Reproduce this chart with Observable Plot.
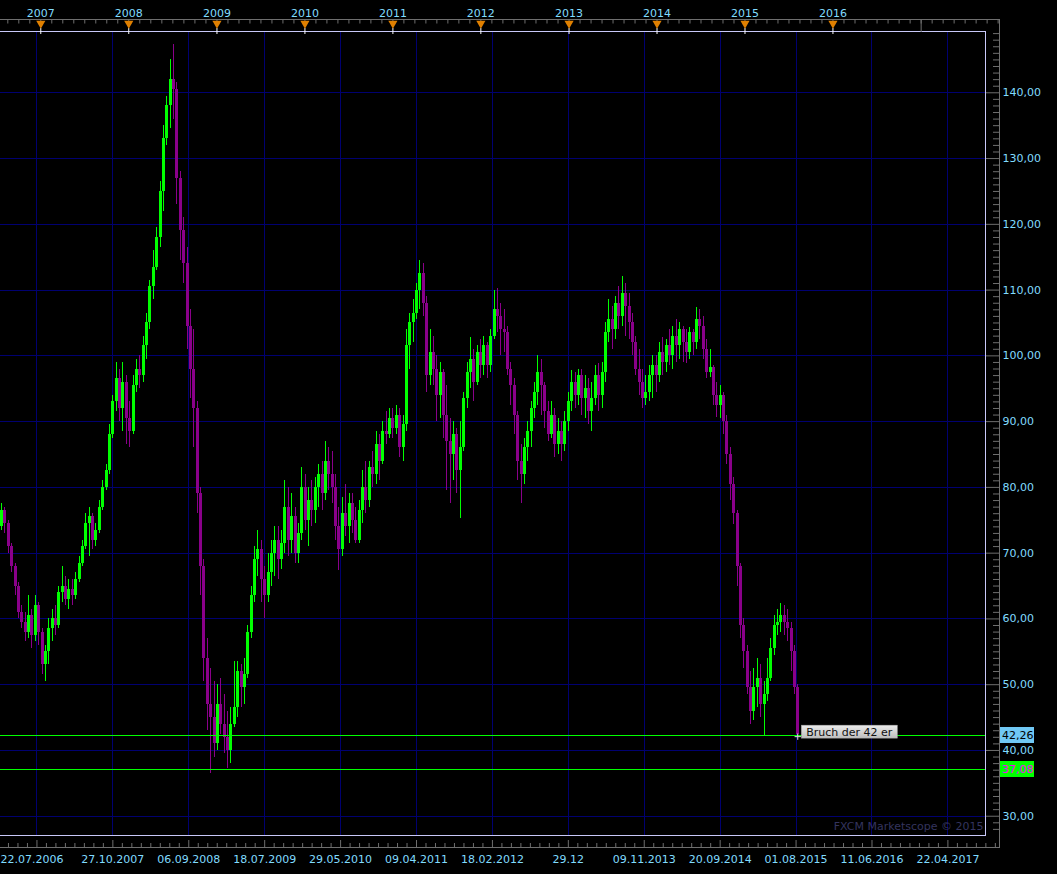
<!DOCTYPE html>
<html>
<head>
<meta charset="utf-8">
<script src="https://cdn.jsdelivr.net/npm/d3@7"></script>
<script src="https://cdn.jsdelivr.net/npm/@observablehq/plot@0.6"></script>
<style>
  html, body { margin: 0; padding: 0; background: #000; }
  svg { display: block; }
</style>
</head>
<body>
<div id="chart"></div>
<script>
// ---------- DATA ----------
const firstDate = "2006-07-22";   // first two-week candle
const periodDays = 14;            // candle period
const firstOpen = 74;

const closes = [
  76.5, 74.5, 71, 68, 65, 61, 59.5, 58, 60.5, 57.5,
  62, 58, 53, 55, 58.5, 60, 59, 64, 65, 63,
  64.5, 63.5, 66, 68.5, 71, 74.5, 75.5, 72, 73.5, 77,
  80, 82.5, 88, 93, 96.5, 92, 96, 90.5, 88.5, 95.5,
  98, 97, 101.5, 105, 110.5, 113.5, 118, 125,
  133, 138, 142, 140.5, 127, 119, 114, 104.5, 98, 92, 79,
  68, 54, 47, 45, 41, 47, 44, 42, 40, 44,
  46.5, 52, 49.5, 51.5, 58, 63.5, 69, 70.5, 66, 63.5,
  67, 70, 72, 69, 71.5, 77, 72, 75.5, 70, 73,
  80, 75, 78, 76.5, 80, 82, 79, 84, 82, 80,
  74, 70.5, 76, 74, 77.5, 75, 72, 76.5, 80, 78,
  83, 82, 86.5, 84, 88.5, 88, 90.5, 89, 91, 86,
  89.5, 101.5, 105, 106.5, 110, 112.5, 108, 97, 100.5, 98,
  94, 97.5, 91, 87, 85, 88, 82.5, 86, 93.5, 97.5,
  99.5, 96, 100.5, 98.5, 101.5, 98.5, 103, 107, 106, 104,
  103.5, 98, 95.5, 91, 84, 82, 86, 88.5, 92,
  94.5, 97.5, 95.5, 91.5, 88, 91, 86.5, 88.5, 86.5, 90,
  93, 96, 94, 97, 93.5, 95, 91.5, 93.5, 97, 94,
  97.5, 103.5, 105.5, 104, 108, 106, 109.5, 107.5, 105, 102,
  98, 96, 93.5, 94.5, 97, 98.5, 97, 100.5, 99, 101.5,
  100, 103, 101.5, 104, 102, 100.5, 103.5, 102, 105.5, 104.5,
  101, 97.5, 98.2, 94, 92.5, 94, 90, 85, 80.5, 76,
  68, 59, 55, 49.5, 46, 49.5, 51, 47, 48.5, 51,
  55.5, 59, 59.5, 60.5, 59.5, 58.5, 55, 49.5, 42.5
];
const highs = [
  77.5, 77, 75, 71.5, 68.5, 65.5, 62, 61, 63.5, 61.5,
  63.5, 62.5, 58.5, 56, 60, 61.5, 62, 65, 68, 66.5,
  66, 66, 67, 69.5, 72, 76, 77, 76, 74.5, 78,
  81, 83.5, 89.5, 94, 99, 98, 99, 97, 93, 97,
  99.5, 100, 103, 106.5, 111.5, 116, 119.5, 126.5,
  135, 139.5, 145, 147.3, 141.5, 128, 121, 116.5, 107, 104, 93,
  80, 69, 57, 52.5, 50.5, 50, 51, 48.5, 46, 46.5,
  53.5, 53.5, 53, 54, 59, 65, 71, 73.5, 72, 68,
  70, 72, 74, 74, 73.5, 81, 80, 79, 77, 74.5,
  83, 82, 80, 81, 81.5, 83.5, 84, 87, 86, 85.5,
  82, 77, 78.5, 80.5, 79, 79, 77, 78, 82.5, 84,
  84, 85.5, 88.5, 88, 90, 91.5, 92, 92, 92.5, 92,
  91, 104, 106.5, 108.5, 111, 114.5, 114, 109, 104, 103,
  100, 99, 98, 95.5, 90.5, 90, 89, 90, 94.5, 99,
  102.8, 101, 101.5, 102.5, 103, 102, 104, 110, 110.3, 108,
  107, 104.5, 99, 96.5, 91.5, 86.5, 87.5, 90, 93,
  96, 100, 99.5, 96, 93, 93, 92, 90.5, 90, 91.5,
  94.5, 97.8, 97.5, 98, 98, 97, 96.5, 96, 98.5, 98.8,
  99, 105, 108.5, 107.5, 109, 110.5, 112, 111, 109.5, 106.5,
  103, 101, 98, 97, 98.5, 100, 100, 102, 102.8, 102.5,
  104, 104.5, 105.5, 105, 104.5, 104, 104.3, 104, 107.4, 107,
  106, 102.5, 101, 98.5, 96, 95.5, 94.5, 91, 86, 81.5,
  76.5, 68.5, 60, 56, 52, 52.5, 54, 53, 50.5, 54,
  57, 60.5, 61.5, 62.3, 62, 61.5, 59.5, 56, 50
];
const lows = [
  73.5, 73, 70, 67, 63.5, 60, 58.5, 56.5, 57, 55.5,
  56.5, 56, 51.5, 50.5, 53, 56.5, 57.5, 58.5, 62.5, 62,
  61.5, 62, 63, 65.5, 68, 70.5, 69.5, 70.5, 71, 73,
  76.5, 79.5, 82, 87.5, 91.5, 90, 88.5, 86.5, 86, 88,
  94.5, 95, 96, 99.5, 104, 108.5, 113, 116.5,
  122, 132, 134.5, 136, 123, 114.5, 111, 101, 93.5, 86, 76,
  63.5, 50.5, 43, 36.5, 39, 40, 42.5, 39.5, 37.3, 38,
  43.5, 45, 46.5, 47, 51, 57, 62.5, 66.5, 62.5, 60,
  62.5, 65, 66.5, 66, 67.5, 70, 69.5, 70, 68.5, 68.5,
  72, 73.5, 71, 74, 74.5, 77, 76.5, 78, 79.5, 77.5,
  72, 67.3, 69.5, 72.5, 71.5, 73, 71.5, 71.5, 74.5, 76,
  77, 80, 80.5, 81, 83.5, 86.5, 87.5, 87.5, 88, 84.5,
  84, 88.5, 98, 102, 105.5, 107, 106, 94.5, 95.5, 95.5,
  90, 90.5, 87.5, 79.5, 77.5, 81, 79, 75.3, 85.5, 92,
  95, 93, 95.5, 96.5, 97, 96.5, 97.5, 102.5, 103.5, 100,
  100.5, 97, 92.5, 88, 81, 77.5, 80.5, 84, 86,
  90.5, 92.5, 91, 89, 87, 87.5, 84.5, 85, 84, 85.5,
  88.5, 91.5, 92, 92.5, 91, 90.5, 89.5, 88.5, 92.5, 91.5,
  92, 96, 102, 101, 102.5, 104, 104.5, 103, 102.5, 100,
  97, 94, 92, 92.5, 93, 93.5, 94.5, 96, 97, 97.5,
  98.5, 98, 99, 99.5, 99, 98.8, 99.5, 100, 101, 102.5,
  99.5, 96.5, 96.7, 92.5, 90.6, 90.5, 88, 83.5, 78, 74.4,
  65, 57, 52.5, 48.5, 44, 44.5, 46.5, 45, 42.1, 47.5,
  50.5, 54.5, 57.5, 58, 57.5, 56.5, 52, 48.5, 42.1
];

const levels = [42.26, 37.08];
const levelLabels = ["42,26", "37,08"];
const priceTicks = [30, 40, 50, 60, 70, 80, 90, 100, 110, 120, 130, 140];
const years = ["2007", "2008", "2009", "2010", "2011", "2012", "2013", "2014", "2015", "2016"];
const unlabeledYear = "2017";
const dateTickDates = ["2006-12-16", "2007-10-27", "2008-09-06", "2009-07-18", "2010-05-29", "2011-04-09",
  "2012-02-18", "2012-12-29", "2013-11-09", "2014-09-20", "2015-08-01", "2016-06-11", "2017-04-22"];
const dateTickLabels = ["", "27.10.2007", "06.09.2008", "18.07.2009", "29.05.2010", "09.04.2011",
  "18.02.2012", "29.12", "09.11.2013", "20.09.2014", "01.08.2015", "11.06.2016", "22.04.2017"];
const firstDateLabel = "22.07.2006";
const annotationText = "Bruch der 42 er";
const watermark = "FXCM Marketscope © 2015";

// ---------- STYLE ----------
const UP = "#00ff00", DOWN = "#8a008a", GRID = "#000070", CYAN = "#80dcff",
      GRAY = "#6e6e6e", BORDER = "#c8c8f8", ORANGE = "#e08000";
const CRISP = "crispEdges";

// ---------- BUILD ----------
const utc = s => new Date(s + "T00:00:00Z");
const start = utc(firstDate);
const n = Math.min(closes.length, highs.length, lows.length);
const candles = d3.range(n).map(i => ({
  date: d3.utcDay.offset(start, periodDays * i),
  open: i ? closes[i - 1] : firstOpen,
  close: closes[i], high: highs[i], low: lows[i]
}));
const upC = candles.filter(d => d.close >= d.open);
const downC = candles.filter(d => d.close < d.open);

const xStart = new Date(Date.UTC(2006, 6, 17, 19));
const xEnd = utc("2017-09-25");
const tickEnd = d3.utcDay.offset(xEnd, 58);

const yearDates = years.map(y => utc(y + "-01-01"));
const dateTicks = dateTickDates.map(utc);
const labelled = dateTicks.map((d, i) => ({date: d, label: dateTickLabels[i]})).filter(d => d.label);

// top minor ticks: eighths of a year
const topMinor = [];
for (let y = 2006; y <= 2017; y++) {
  const a = Date.UTC(y, 0, 1), b = Date.UTC(y + 1, 0, 1);
  for (let k = 0; k < 8; k++) {
    const d = new Date(a + k * (b - a) / 8);
    if (d >= xStart && d <= tickEnd) topMinor.push(d);
  }
}
// bottom minor ticks: eighths between the date ticks
const botMinor = [];
const stepMs = (dateTicks[1] - dateTicks[0]) / 8;
for (let k = -8; k <= 8 * 14; k++) {
  if (k % 8 === 0) continue;
  const d = new Date(+dateTicks[0] + k * stepMs);
  if (d >= xStart && d <= tickEnd) botMinor.push(d);
}
const priceMinor = d3.range(28, 150).filter(v => v % 10 !== 0);
const fmt = v => v.toFixed(2).replace(".", ",");
const blank = () => "";

const plot = Plot.plot({
  width: 1057,
  height: 874,
  marginLeft: 0,
  marginRight: 72,
  marginTop: 31,
  marginBottom: 39,
  style: {background: "#000", fontFamily: "DejaVu Sans", fontSize: "11px", color: CYAN},
  x: {type: "utc", domain: [xStart, xEnd], label: null},
  y: {domain: [27.07, 149.32], label: null},
  marks: [
    // grid
    Plot.ruleY(priceTicks, {stroke: GRID, shapeRendering: CRISP}),
    Plot.ruleX(dateTicks, {stroke: GRID, shapeRendering: CRISP}),
    // candles
    Plot.ruleX(upC, {x: "date", y1: "low", y2: "high", stroke: UP, strokeWidth: 1, shapeRendering: CRISP}),
    Plot.ruleX(upC, {x: "date", y1: "open", y2: "close", stroke: UP, strokeWidth: 3, shapeRendering: CRISP}),
    Plot.ruleX(downC, {x: "date", y1: "low", y2: "high", stroke: DOWN, strokeWidth: 1, shapeRendering: CRISP}),
    Plot.ruleX(downC, {x: "date", y1: "open", y2: "close", stroke: DOWN, strokeWidth: 3, shapeRendering: CRISP}),
    // level lines
    Plot.ruleY(levels, {stroke: UP, strokeWidth: 1, shapeRendering: CRISP}),
    // frames
    Plot.frame({stroke: GRAY, insetTop: -12, insetBottom: -12, insetRight: -14, insetLeft: -4, shapeRendering: CRISP}),
    Plot.frame({stroke: BORDER, insetLeft: -3, shapeRendering: CRISP}),
    // watermark
    Plot.text([watermark], {text: d => d, frameAnchor: "bottom-right", textAnchor: "end", dx: -2, dy: -6, fill: "#34345e"}),
    // top axis
    Plot.axisX(topMinor, {anchor: "top", tickSize: 3.5, dy: -8.5, stroke: GRAY, tickFormat: blank, label: null}),
    Plot.axisX([utc(unlabeledYear + "-01-01")], {anchor: "top", tickSize: 12, stroke: GRAY, tickFormat: blank, label: null}),
    Plot.axisX(yearDates, {anchor: "top", tickSize: 6, dy: 2, stroke: "#ffffff", tickFormat: blank, label: null}),
    Plot.dot(yearDates, {x: d => d, frameAnchor: "top", dy: -8, symbol: "triangle", rotate: 180, r: 3.4, fill: ORANGE, stroke: null}),
    Plot.text(yearDates, {x: d => d, text: (d, i) => years[i], frameAnchor: "top", dy: -22, fill: CYAN}),
    // bottom axis
    Plot.axisX(botMinor, {anchor: "bottom", tickSize: 4, dy: 8, stroke: GRAY, tickFormat: blank, label: null}),
    Plot.axisX(dateTicks, {anchor: "bottom", tickSize: 7, dy: 5, stroke: GRAY, tickFormat: blank, label: null}),
    Plot.text(labelled, {x: "date", text: "label", frameAnchor: "bottom", dy: 27, fill: CYAN}),
    Plot.text([firstDateLabel], {text: d => d, frameAnchor: "bottom-left", textAnchor: "start", dy: 27, fill: CYAN}),
    // right axis
    Plot.axisY(priceMinor, {anchor: "right", tickSize: 7, dx: 7, stroke: GRAY, tickFormat: blank, label: null}),
    Plot.axisY(priceTicks, {anchor: "right", tickSize: 14, tickPadding: 3, stroke: GRAY, fill: CYAN, tickFormat: fmt, label: null}),
    // marker at last candle
    Plot.dot(candles.slice(-1), {x: "date", y: "low", symbol: "plus", r: 2.2, stroke: "#dddddd", strokeWidth: 1})
  ]
});

document.getElementById("chart").appendChild(plot);

// ---------- decorations placed through Plot's scales ----------
const sx = plot.scale("x"), sy = plot.scale("y");
const svg = d3.select(plot);
const defs = svg.append("defs");
const grad = defs.append("linearGradient").attr("id", "annGrad").attr("x1", 0).attr("y1", 0).attr("x2", 0).attr("y2", 1);
grad.append("stop").attr("offset", "0%").attr("stop-color", "#ececec");
grad.append("stop").attr("offset", "100%").attr("stop-color", "#bdbdbd");

const boxFills = ["#70c8f4", "#00ff00"];
const boxText = ["#000000", "#ff00ff"];
const axisX0 = 1057 - 72 + 15;
levels.forEach((v, i) => {
  const y = Math.round(sy.apply(v));
  svg.append("rect").attr("x", axisX0).attr("y", y - 8).attr("width", 34).attr("height", 16).attr("fill", boxFills[i]);
  svg.append("text").attr("x", axisX0 + 2).attr("y", y).attr("dy", "0.35em").attr("text-anchor", "start")
    .attr("fill", boxText[i]).attr("font-family", "DejaVu Sans").attr("font-size", 11).text(levelLabels[i]);
});

const last = candles[candles.length - 1];
const px = sx.apply(last.date), py = sy.apply(last.low);
const ann = svg.append("g");
const annText = ann.append("text").attr("x", px + 9).attr("y", py - 4.5).attr("dy", "0.35em").attr("text-anchor", "start")
  .attr("fill", "#111").attr("font-family", "DejaVu Sans").attr("font-size", 11).text(annotationText);
const tw = annText.node().getComputedTextLength();
ann.insert("rect", "text").attr("x", px + 4).attr("y", py - 11).attr("width", tw + 10).attr("height", 13)
  .attr("fill", "url(#annGrad)").attr("stroke", "#9a9a9a").attr("stroke-width", 0.5);
</script>
</body>
</html>
